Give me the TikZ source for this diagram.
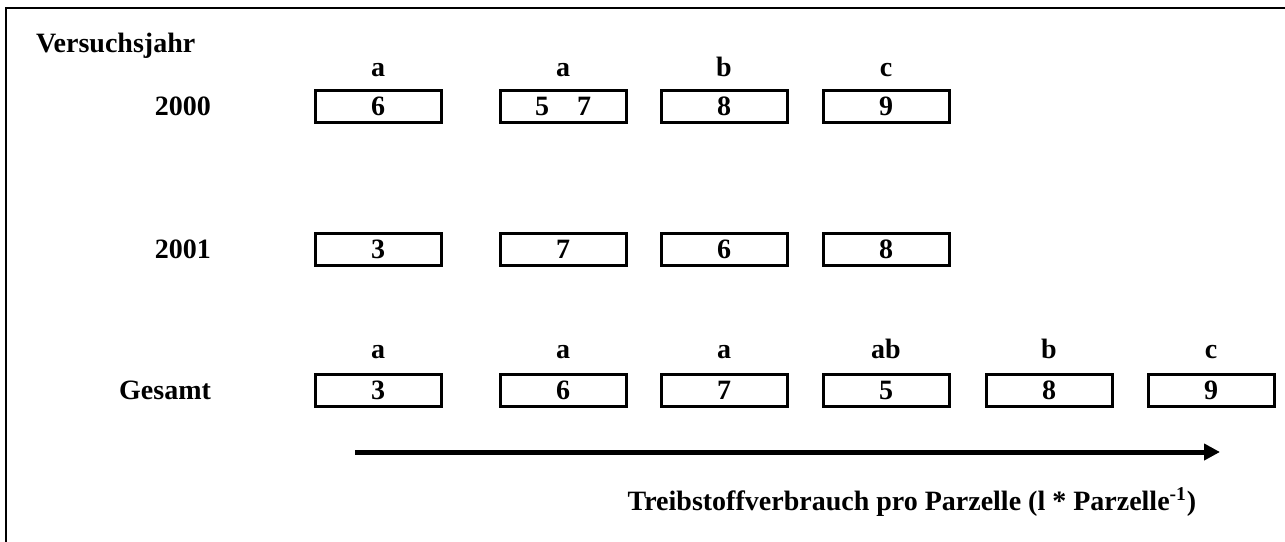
\documentclass[tikz,border=0pt]{standalone}
\usepackage{fontspec}
\setmainfont{Liberation Serif}
\usepackage{tikz}
\usetikzlibrary{arrows.meta}

\begin{document}
\begin{tikzpicture}[x=0.5pt, y=-0.5pt,
    every node/.style={font=\fontsize{14}{16}\selectfont\bfseries},
    wert/.style={draw, line width=1.5pt, minimum width=63pt, minimum height=16pt, inner sep=0pt},
    sig/.style={anchor=base}]

                \useasboundingbox (0,0) rectangle (1285,541);

                % Frame
                \draw[line width=1pt] (1290,8) -- (6,8) -- (6,546);

                % Nodes
                \node at (29,52) (versuchsjahr) [anchor=base west] {Versuchsjahr};
                \node at (218,106) (j2000) [anchor=east] {2000};
                \node at (218,249) (j2001) [anchor=east] {2001};
                \node at (218,390) (gesamt) [anchor=east] {Gesamt};

                % 2000
                \node at (378,76) (s2000_1) [sig] {a};
                \node at (563,76) (s2000_2) [sig] {a};
                \node at (724,76) (s2000_3) [sig] {b};
                \node at (886,76) (s2000_4) [sig] {c};
                \node at (378,106) (w2000_1) [wert] {6};
                \node at (563,106) (w2000_2) [wert] {5\quad 7};
                \node at (724,106) (w2000_3) [wert] {8};
                \node at (886,106) (w2000_4) [wert] {9};

                % 2001
                \node at (378,249) (w2001_1) [wert] {3};
                \node at (563,249) (w2001_2) [wert] {7};
                \node at (724,249) (w2001_3) [wert] {6};
                \node at (886,249) (w2001_4) [wert] {8};

                % Gesamt
                \node at (378,358) (sg_1) [sig] {a};
                \node at (563,358) (sg_2) [sig] {a};
                \node at (724,358) (sg_3) [sig] {a};
                \node at (886,358) (sg_4) [sig] {ab};
                \node at (1049,358) (sg_5) [sig] {b};
                \node at (1211,358) (sg_6) [sig] {c};
                \node at (378,390) (wg_1) [wert] {3};
                \node at (563,390) (wg_2) [wert] {6};
                \node at (724,390) (wg_3) [wert] {7};
                \node at (886,390) (wg_4) [wert] {5};
                \node at (1049,390) (wg_5) [wert] {8};
                \node at (1211,390) (wg_6) [wert] {9};

                % Arrow
                \coordinate (achse_start) at (355,452);
                \coordinate (achse_ende) at (1220,452);
                \draw[line width=2.5pt, -{Triangle[length=8pt, width=8pt]}] (achse_start) -- (achse_ende);
                \node at (912,502) (achse_titel) {Treibstoffverbrauch pro Parzelle (l * Parzelle\textsuperscript{-1})};

            \end{tikzpicture}
\end{document}
